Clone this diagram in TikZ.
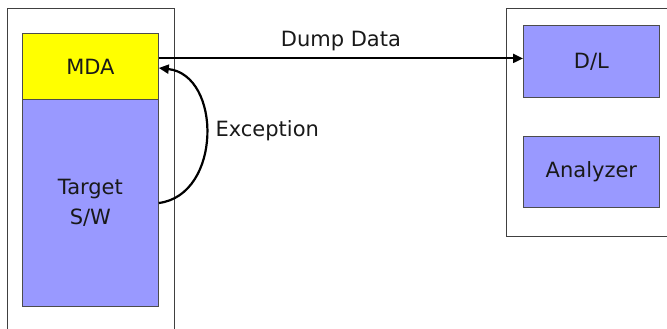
\documentclass[tikz,border=0pt]{standalone}
\usepackage{fontspec}
\setmainfont{DejaVu Sans}
\usetikzlibrary{arrows.meta}
\definecolor{mdayellow}{HTML}{FFFF00}
\definecolor{blockblue}{HTML}{9999FF}
\begin{document}
\begin{tikzpicture}[x=1pt,y=-1pt,
  outerbox/.style={draw=black!75, line width=0.8pt, anchor=north west, inner sep=0pt},
  blockbox/.style={draw=black!70, line width=0.8pt, fill=blockblue, anchor=north west, inner sep=0pt, align=center, font=\fontsize{21}{30}\selectfont, text=black!90},
  conn/.style={line width=2.2pt, -{Triangle[length=10pt,width=9pt]}},
  lbl/.style={font=\fontsize{21}{25}\selectfont, text=black!90}]
\useasboundingbox (0,0) rectangle (667,329);
% outer frames
\node[outerbox, minimum width=167pt, minimum height=340pt] (host) at (7,8) {};
\node[outerbox, minimum width=170pt, minimum height=228pt] (pc) at (506,8) {};
% left blocks
\node[blockbox, fill=mdayellow, minimum width=136pt, minimum height=66pt] (mda) at (22,33) {MDA};
\node[blockbox, minimum width=136pt, minimum height=207pt] (tsw) at (22,99) {\rule{0pt}{0pt}\\[-15pt]Target\\S/W};
% right blocks
\node[blockbox, minimum width=136pt, minimum height=72pt] (dl) at (523,25) {D/L};
\node[blockbox, minimum width=136pt, minimum height=71pt] (ana) at (523,136) {Analyzer};
% dump data arrow
\coordinate (dstart) at ([yshift=8pt]mda.east);
\draw[conn] (dstart) -- (dstart -| dl.west) node[midway, above=3pt, lbl] {Dump Data};
% exception arc
\coordinate (estart) at (tsw.east |- 0,203);
\coordinate (eend) at (mda.east |- 0,68);
\draw[conn] (estart) .. controls (222,195) and (222,75) .. (eend);
\node[lbl, anchor=west] (exc) at (212,131) {Exception};
\end{tikzpicture}
\end{document}
